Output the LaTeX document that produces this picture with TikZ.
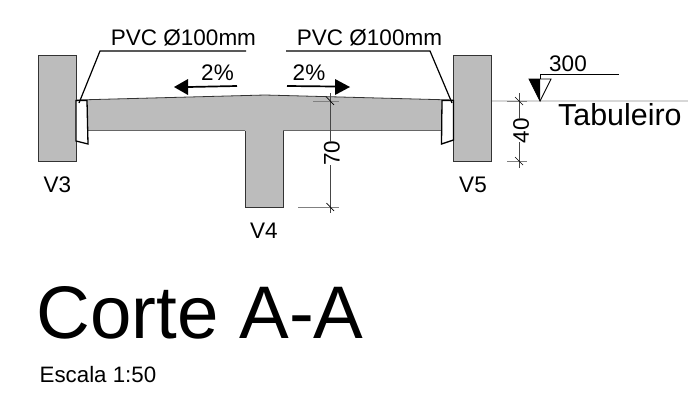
\documentclass[tikz,border=0pt]{standalone}
\usepackage{fontspec}
\setmainfont{Liberation Sans}
\usepackage{xcolor}
\definecolor{concreto}{RGB}{188,188,188}
\definecolor{nivel}{RGB}{215,215,215}
\definecolor{cota}{RGB}{70,70,70}
\newcommand{\fontrotulo}{\fontsize{22.5}{22.5}\selectfont}
\tikzset{
 	rotulo/.style={inner sep=0pt,font=\fontrotulo},
 	pilar/.style={draw=black!80,line width=0.8pt,fill=concreto},
 	tubo/.style={draw=black,line width=1.3pt,fill=white,line join=miter},
 	lider/.style={draw=black,line width=1.2pt},
 	linhacota/.style={draw=cota,line width=0.7pt},
 	extcota/.style={draw=gray,line width=1pt},
 	seta/.style={draw=black,line width=1.7pt}
}
\begin{document}
\begin{tikzpicture}[x=1pt,y=1pt]
 	\useasboundingbox (0,0) rectangle (699,-405);
 	% nivel
 	\draw [nivel,line width=1.2pt] (491,-101) -- (688,-101);
 	% vigas
 	\draw [pilar] (38,-55) rectangle (76,-161);
 	\draw [pilar] (453,-55) rectangle (491,-161);
 	\fill [concreto] (76,-100) -- (265,-95) -- (453,-100) -- (453,-130.5) -- (283,-130.5) -- (283,-207) -- (245,-207) -- (245,-130.5) -- (76,-130.5) -- cycle;
 	\draw [black!80,line width=0.8pt] (76,-100) -- (265,-95) -- (453,-100);
 	\draw [black!60,line width=1pt] (76,-130.5) -- (245,-130.5);
 	\draw [black!60,line width=1pt] (283,-130.5) -- (453,-130.5);
 	\draw [black!80,line width=0.8pt] (245,-130.5) -- (245,-207) -- (283,-207) -- (283,-130.5);
 	% tubos
 	\draw [tubo] (76,-100.5) -- (87,-100.5) -- (88,-144) -- (76,-141) -- cycle;
 	\draw [tubo] (442,-100.5) -- (453.5,-100.5) -- (453.5,-140) -- (441.5,-144) -- cycle;
 	% PVC
 	\node [rotulo,anchor=base] (pvcEsq) at (183.5,-45) {PVC Ø100mm};
 	\node [rotulo,anchor=base] (pvcDir) at (369.5,-45) {PVC Ø100mm};
 	\coordinate (liderEsqA) at (246,-51);
 	\coordinate (liderEsqB) at (100,-51);
 	\coordinate (liderEsqC) at (79,-103);
 	\coordinate (liderDirA) at (286,-51);
 	\coordinate (liderDirB) at (430,-51);
 	\coordinate (liderDirC) at (452,-103);
 	\draw [lider] (liderEsqA) -- (liderEsqB) -- (liderEsqC);
 	\draw [lider] (liderDirA) -- (liderDirB) -- (liderDirC);
 	% caimento
 	\node [rotulo,anchor=base] (caimentoEsq) at (217.5,-80) {2\%};
 	\node [rotulo,anchor=base] (caimentoDir) at (309,-80) {2\%};
 	\draw [seta] (237,-86) -- (188,-87);
 	\fill [black] (174,-87) -- (188,-79) -- (188,-95);
 	\draw [seta] (287,-86) -- (335,-86.5);
 	\fill [black] (350,-87) -- (335,-79) -- (335,-95);
 	% cota 70
 	\node [rotulo,rotate=90,anchor=center] (cota70) at (332,-153) {70};
 	\coordinate (cota70A) at (330,-93);
 	\coordinate (cota70B) at (330,-213);
 	\coordinate (cota70C) at (330,-142);
 	\coordinate (cota70D) at (330,-165);
 	\draw [linhacota] (cota70A) -- (cota70C);
 	\draw [linhacota] (cota70D) -- (cota70B);
 	\draw [extcota] (313,-101) -- (339,-101);
 	\draw [extcota] (298,-207) -- (339,-207);
 	\draw [black,line width=0.7pt] (326.5,-97) -- (334,-105);
 	\draw [black,line width=0.7pt] (326.5,-203) -- (334,-211);
 	% cota 40
 	\node [rotulo,rotate=90,anchor=center] (cota40) at (521,-130.5) {40};
 	\coordinate (cota40A) at (519,-93);
 	\coordinate (cota40B) at (519,-168);
 	\coordinate (cota40C) at (519,-119);
 	\coordinate (cota40D) at (519,-142);
 	\draw [linhacota] (cota40A) -- (cota40C);
 	\draw [linhacota] (cota40D) -- (cota40B);
 	\draw [extcota] (507,-101) -- (527,-101);
 	\draw [extcota] (507,-161) -- (527,-161);
 	\draw [black,line width=0.7pt] (515,-97) -- (523,-105);
 	\draw [black,line width=0.7pt] (515,-157) -- (523,-165);
 	% nivel 300
 	\fill [black] (540,-101) -- (529,-79) -- (540,-79);
 	\draw [black,line width=0.9pt] (540,-101) -- (529,-79) -- (551,-79) -- cycle;
 	\coordinate (nivelA) at (540,-79);
 	\coordinate (nivelB) at (540,-74);
 	\coordinate (nivelC) at (619,-74);
 	\draw [black,line width=0.9pt] (nivelA) -- (nivelB) -- (nivelC);
 	\node [rotulo,anchor=base] (cota300) at (568,-71) {300};
 	\node [inner sep=0pt,anchor=base west,font=\fontsize{30.4}{30.4}\selectfont] (tabuleiro) at (558,-125) {Tabuleiro};
 	% vigas, nomes
 	\node [rotulo,anchor=base] (v3) at (57.5,-192.5) {V3};
 	\node [rotulo,anchor=base] (v5) at (473,-192.5) {V5};
 	\node [rotulo,anchor=base] (v4) at (264,-238.5) {V4};
 	% titulo
 	\node [inner sep=0pt,anchor=base west,font=\fontsize{74.5}{74.5}\selectfont] (titulo) at (36.5,-338) {Corte A-A};
 	\node [inner sep=0pt,anchor=base west,font=\fontsize{22.3}{22.3}\selectfont] (escala) at (39.5,-382) {Escala 1:50};
\end{tikzpicture}
\end{document}
